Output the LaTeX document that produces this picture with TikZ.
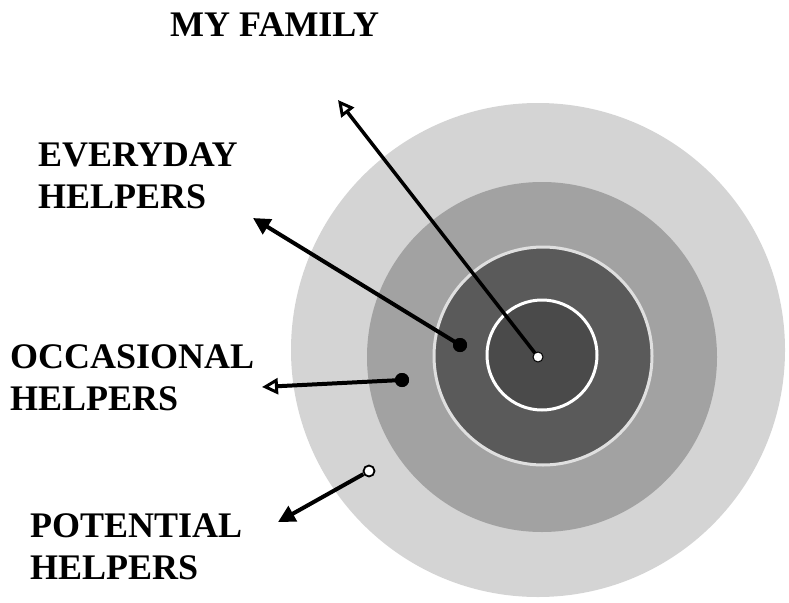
\documentclass[tikz,border=0pt]{standalone}
\usepackage{fontspec}
\setmainfont{Liberation Serif}
\usetikzlibrary{arrows.meta}
\definecolor{ringA}{HTML}{D4D4D4}
\definecolor{ringB}{HTML}{A2A2A2}
\definecolor{ringC}{HTML}{5A5A5A}
\definecolor{ringD}{HTML}{4A4A4A}
\tikzset{
  lab/.style={font=\bfseries\fontsize{36}{42}\selectfont, align=left, inner sep=0pt, anchor=north west},
  blackdot/.style={circle, fill=black, inner sep=0pt, minimum size=14pt},
  whitedot/.style={circle, fill=white, draw=black, line width=1.8pt, inner sep=0pt, minimum size=11pt},
  ptr/.style={line width=4pt},
  opentip/.style={-{Triangle[open, length=16pt, width=16pt, line width=3pt]}},
  filledtip/.style={-{Triangle[length=17pt, width=17pt]}}
}
\begin{document}
\begin{tikzpicture}[x=1pt, y=-1pt]
\useasboundingbox (0,0) rectangle (789,602);
% concentric rings
\fill[ringA] (538,350) circle (247);
\fill[ringB] (542,357) circle (175);
\draw[white!75!gray, line width=3pt, fill=ringC] (543,356) circle (109);
\draw[white, line width=3pt, fill=ringD] (542,355) circle (55);
% labels
\node[lab] (fam) at (170,13) {MY FAMILY};
\node[lab] (every) at (38,143) {EVERYDAY\\HELPERS};
\node[lab] (occ) at (10,344) {OCCASIONAL\\HELPERS};
\node[lab] (pot) at (30,513) {POTENTIAL\\HELPERS};
% pointer dots
\node[blackdot] (d2) at (460,345) {};
\node[blackdot] (d3) at (402,380) {};
\node[whitedot] (d4) at (369,471) {};
% tips
\coordinate (t1) at (338,100);
\coordinate (t2) at (253,218);
\coordinate (t3) at (262,387);
\coordinate (t4) at (278,522);
% arrows
\draw[ptr, line width=3.5pt, opentip] (538,357) coordinate (c0) -- (t1);
\draw[ptr, filledtip] (d2.center) -- (t2);
\draw[ptr, opentip] (d3.center) -- (t3);
\draw[ptr, filledtip] (d4) -- (t4);
\node[blackdot] at (d2) {};
\node[blackdot] at (d3) {};
\node[circle, fill=white, draw=black, line width=1pt, inner sep=0pt, minimum size=10pt] (d1) at (c0) {};
\end{tikzpicture}
\end{document}
